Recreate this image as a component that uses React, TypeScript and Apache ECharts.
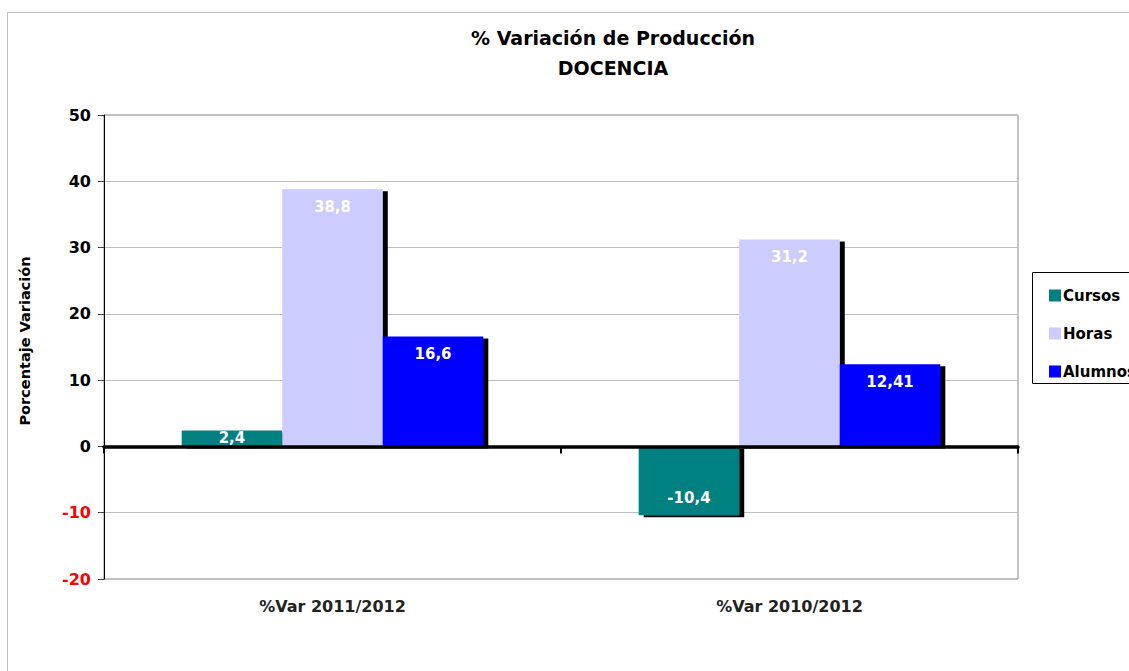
import React, { useEffect, useRef } from "react";
import * as echarts from "echarts";

const categories = ["%Var 2011/2012", "%Var 2010/2012"];
const cursos = [2.4, -10.4];
const horas = [38.8, 31.2];
const alumnos = [16.6, 12.41];
const seriesNames = ["Cursos", "Horas", "Alumnos"];
const seriesColors = ["#008080", "#CCCCFF", "#0000FF"];
const yTicks = { min: -20, max: 50, interval: 10 };

const FONT = "'DejaVu Sans', Arial, sans-serif";

function fmt(v: number) {
  return String(v).replace(".", ",");
}

export default function App() {
  const ref = useRef<HTMLDivElement>(null);
  useEffect(() => {
    document.body.style.margin = "0";
    const chart = echarts.init(ref.current!, null, { renderer: "svg" });
    const makeSeries = (name: string, values: number[], color: string) => ({
      name,
      type: "bar",
      xAxisIndex: 0,
      barGap: "0%",
      barCategoryGap: "34%",
      itemStyle: {
        color,
        shadowColor: "#000",
        shadowBlur: 0,
        shadowOffsetX: 5,
        shadowOffsetY: 2,
      },
      label: {
        show: true,
        color: "#fff",
        fontFamily: FONT,
        fontWeight: "bold",
        fontSize: 15,
        distance: 10,
        formatter: (p: any) => fmt(p.value),
      },
      data: values.map((v) => ({
        value: v,
        label: {
          position: Math.abs(v) < 5 ? "inside" : v < 0 ? "insideBottom" : "insideTop",
        },
      })),
    });
    chart.setOption({
      animation: false,
      backgroundColor: "#fff",
      title: {
        text: "% Variación de Producción\nDOCENCIA",
        left: 608,
        textAlign: "center",
        top: 18,
        textStyle: {
          fontFamily: FONT,
          fontWeight: "bold",
          fontSize: 19,
          lineHeight: 30,
          color: "#000",
        },
      },
      legend: {
        orient: "vertical",
        left: 1044,
        top: 283,
        itemWidth: 12,
        itemHeight: 12,
        itemGap: 23,
        icon: "rect",
        data: seriesNames,
        textStyle: {
          fontFamily: FONT,
          fontWeight: "bold",
          fontSize: 15,
          color: "#000",
          padding: [0, 0, 0, -3],
        },
      },
      grid: {
        left: 104,
        right: 111,
        top: 115,
        bottom: 92,
        show: true,
        borderColor: "#888",
        borderWidth: 1,
      },
      xAxis: [
        {
          type: "category",
          data: categories,
          position: "bottom",
          axisLine: { onZero: false, show: false },
          axisTick: { show: false },
          axisLabel: {
            margin: 19,
            fontFamily: FONT,
            fontWeight: "bold",
            fontSize: 16,
            color: "#222",
          },
        },
        {
          type: "category",
          data: categories,
          position: "top",
          z: 10,
          axisLine: {
            onZero: true,
            lineStyle: { color: "#000", width: 3.5 },
          },
          axisTick: {
            show: true,
            inside: true,
            length: 7,
            lineStyle: { color: "#000", width: 2 },
          },
          axisLabel: { show: false },
        },
      ],
      yAxis: {
        type: "value",
        min: yTicks.min,
        max: yTicks.max,
        interval: yTicks.interval,
        name: "Porcentaje Variación",
        nameLocation: "middle",
        nameGap: 72,
        nameTextStyle: {
          fontFamily: FONT,
          fontWeight: "bold",
          fontSize: 14.5,
          color: "#000",
          padding: [0, 0, 0, 12],
        },
        axisLine: { show: true, lineStyle: { color: "#000", width: 1 } },
        axisTick: { show: true, length: 6, lineStyle: { color: "#404040" } },
        splitLine: { lineStyle: { color: "#C0C0C0", width: 1 } },
        axisLabel: {
          margin: 13,
          fontFamily: FONT,
          fontWeight: "bold",
          fontSize: 16,
          formatter: (v: number) => (v < 0 ? `{neg|${v}}` : `{pos|${v}}`),
          rich: {
            neg: { color: "#FF0000", fontFamily: FONT, fontWeight: "bold", fontSize: 16 },
            pos: { color: "#000", fontFamily: FONT, fontWeight: "bold", fontSize: 16 },
          },
        },
      },
      graphic: [
        {
          type: "rect",
          shape: { x: 7.5, y: 12.5, width: 1200, height: 700 },
          style: { fill: "none", stroke: "#BFBFBF", lineWidth: 1 },
          silent: true,
        },
        {
          type: "rect",
          shape: { x: 1032.5, y: 272.5, width: 200, height: 111 },
          style: { fill: "none", stroke: "#000", lineWidth: 1 },
          silent: true,
        },
      ],
      series: [
        makeSeries(seriesNames[0], cursos, seriesColors[0]),
        makeSeries(seriesNames[1], horas, seriesColors[1]),
        makeSeries(seriesNames[2], alumnos, seriesColors[2]),
      ],
    });
    return () => chart.dispose();
  }, []);
  return <div ref={ref} style={{ width: 1129, height: 671 }} />;
}
